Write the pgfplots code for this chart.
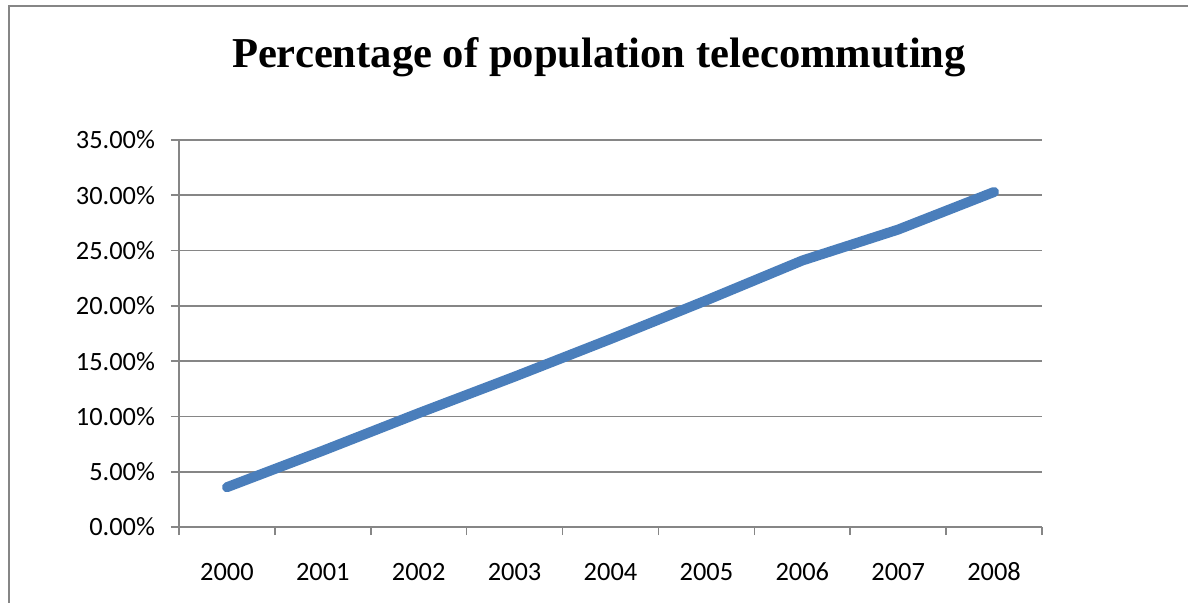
\documentclass[border=0pt]{standalone}
\usepackage{pgfplots}
\pgfplotsset{compat=1.18}
\usepackage{fontspec}
\setmainfont{Carlito}
\newfontfamily\titlefont{Liberation Serif}
\definecolor{linecol}{RGB}{74,126,187}
\definecolor{gridcol}{RGB}{134,134,134}
\begin{document}
\begin{tikzpicture}
\useasboundingbox (-89.5pt,-37.5pt) rectangle (504.5pt,263.5pt);
\draw[gridcol, line width=0.7pt] (-85pt,-40pt) -- (-85pt,260.5pt) -- (510pt,260.5pt);
\begin{axis}[
  at={(0pt,0pt)}, anchor=south west,
  scale only axis,
  width=431.5pt, height=193.5pt,
  xmin=-0.5, xmax=8.5,
  ymin=0, ymax=35,
  xtick={0,...,8},
  xticklabels={2000,2001,2002,2003,2004,2005,2006,2007,2008},
  minor xtick={-0.5,0.5,...,8.5},
  major x tick style={draw=none},
  ytick={0,5,...,35},
  tick align=outside,
  major tick length=4pt,
  minor tick length=4pt,
  axis x line*=bottom,
  axis y line*=left,
  axis line style={gridcol, line width=0.8pt, -},
  tick style={gridcol, line width=0.8pt},
  ymajorgrids,
  grid style={gridcol, line width=0.8pt},
  /pgf/number format/assume math mode=true,
  yticklabel={\pgfmathprintnumber[fixed, fixed zerofill, precision=2]{\tick}\%},
  ticklabel style={font=\fontsize{13.2}{15}\selectfont, text=black},
  yticklabel style={xshift=-4.5pt},
  xticklabel style={yshift=-10pt, text height=9pt, text depth=0pt},
  clip=false,
]
\addplot[linecol, line width=5pt, line cap=round, line join=round] coordinates {
  (0,3.6) (1,6.9) (2,10.3) (3,13.6) (4,17.0) (5,20.5) (6,24.1) (7,26.9) (8,30.3)
};
\end{axis}
\node[anchor=base, font=\titlefont\bfseries\fontsize{21.3}{26}\selectfont] at (210pt,230pt) {Percentage of population telecommuting};
\end{tikzpicture}
\end{document}
